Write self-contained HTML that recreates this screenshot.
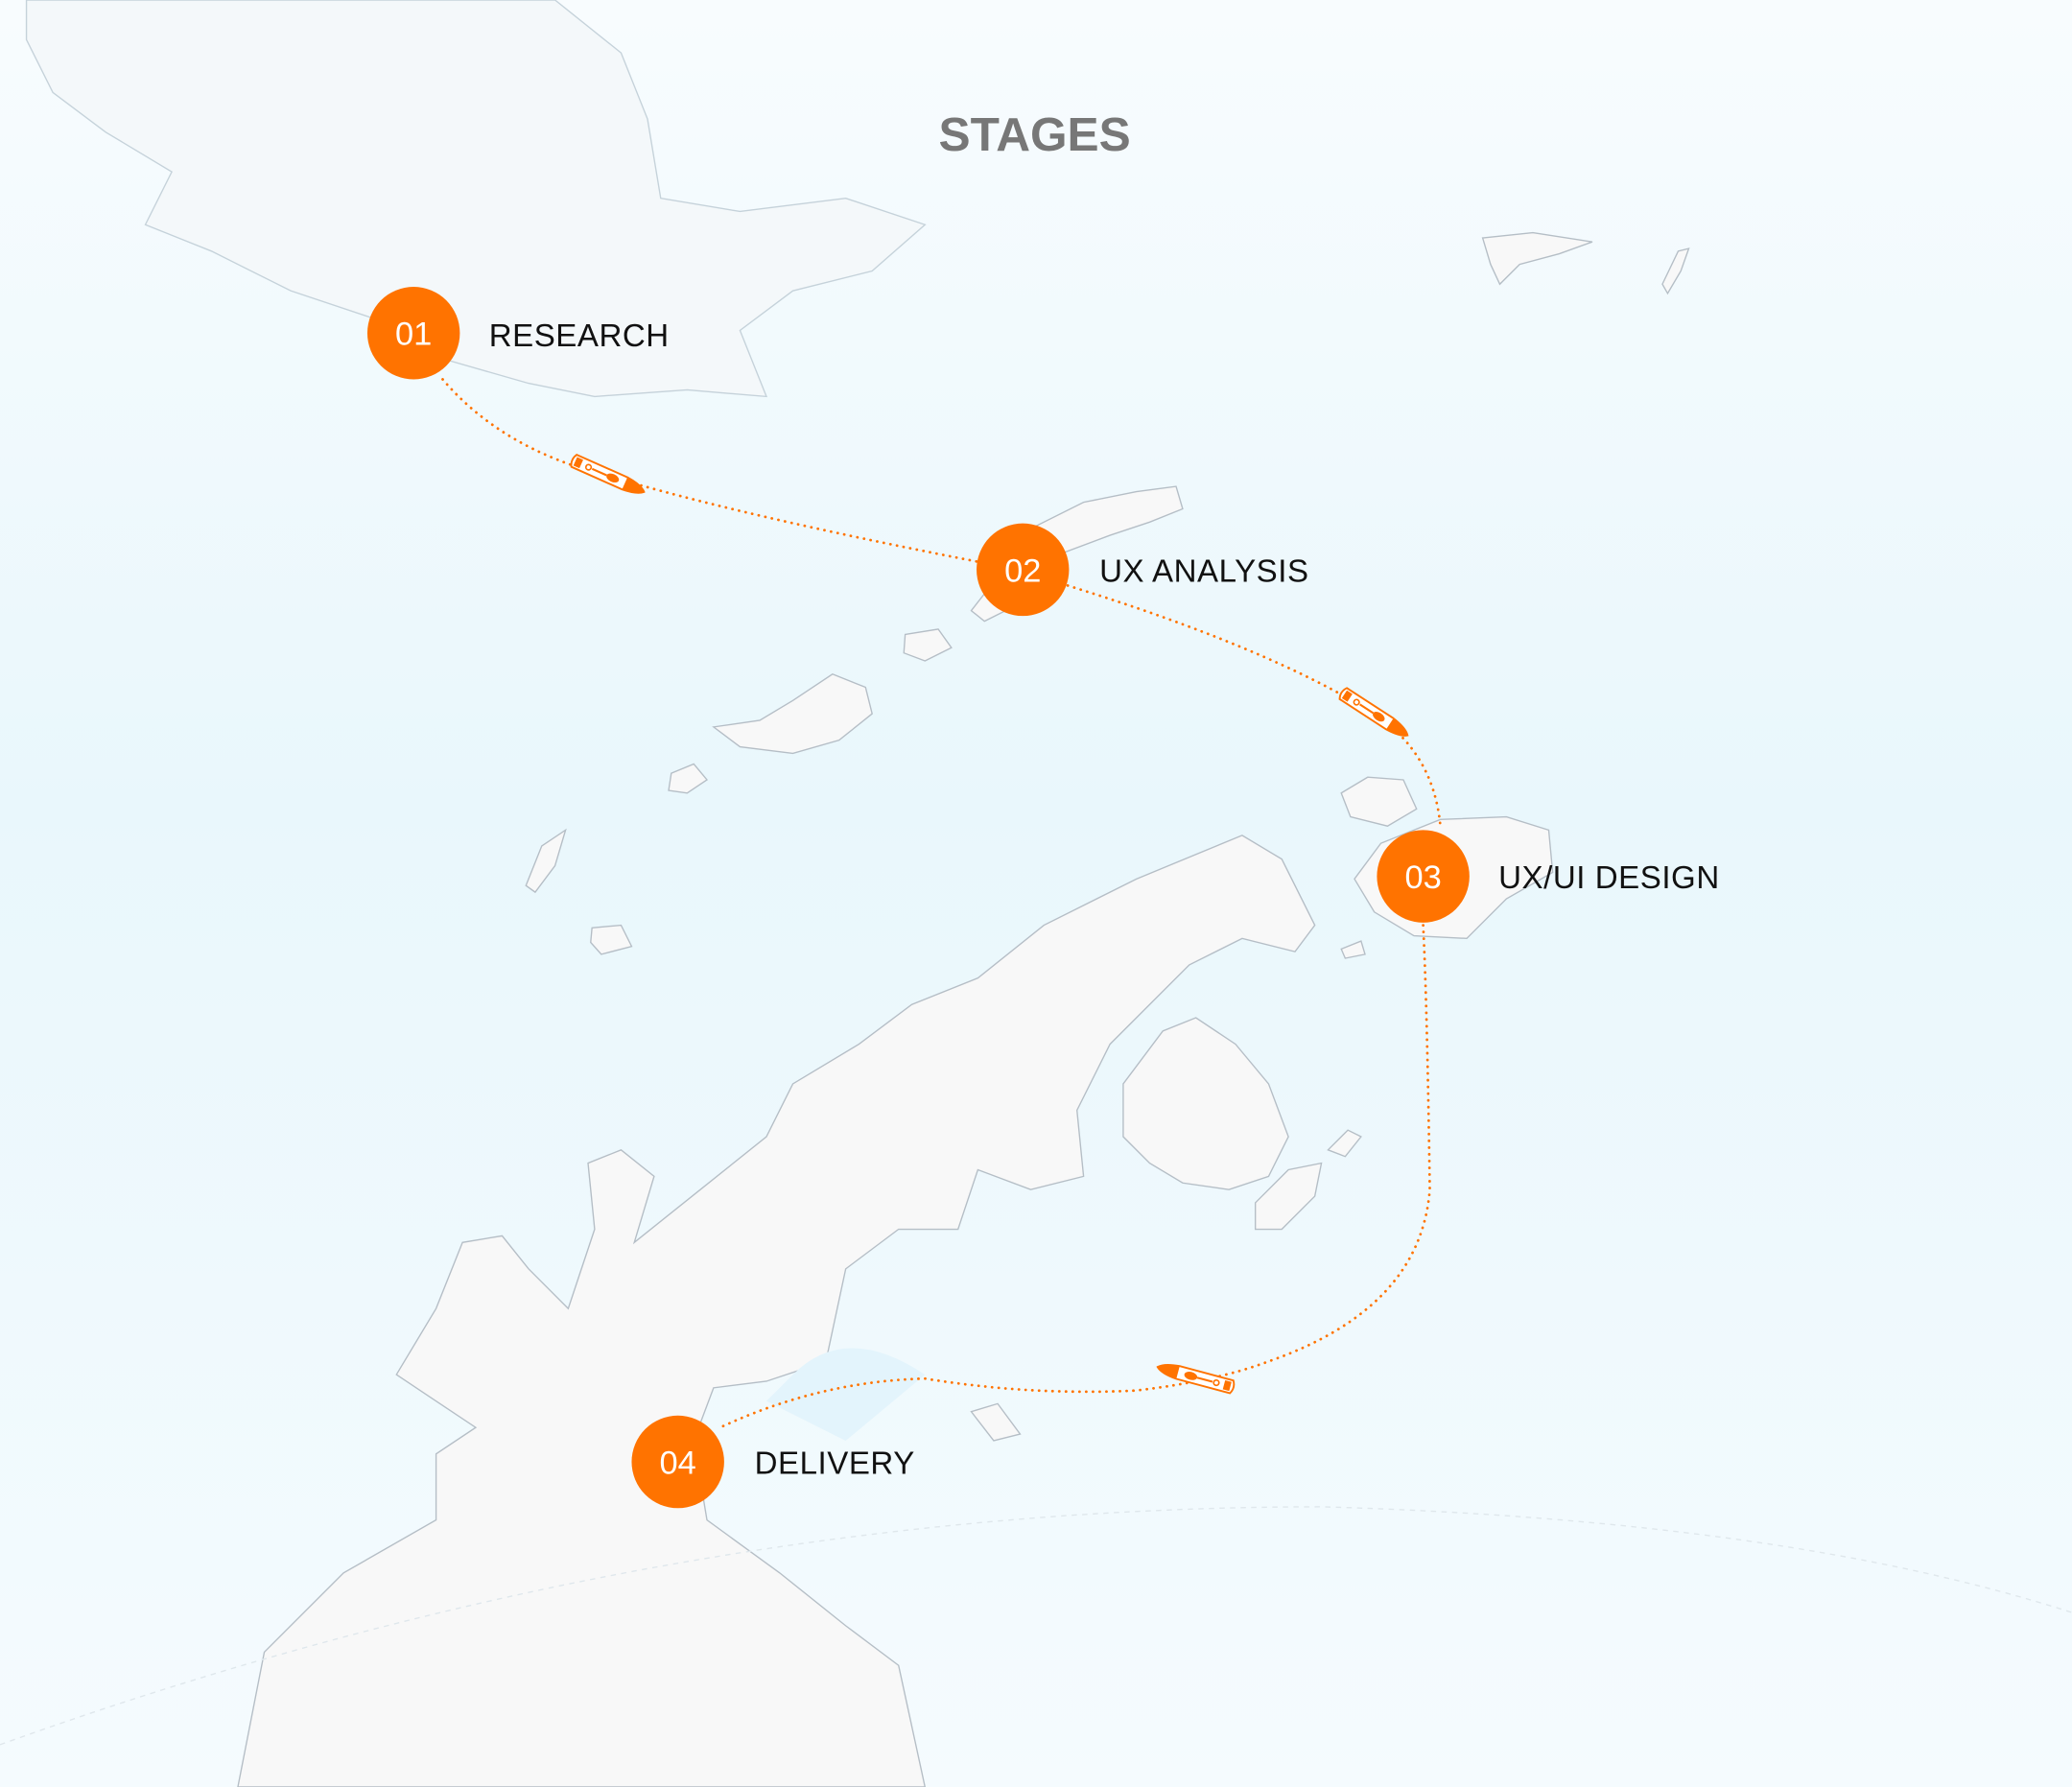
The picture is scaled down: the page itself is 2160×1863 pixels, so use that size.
<!DOCTYPE html>
<html><head><meta charset="utf-8"><style>
html,body{margin:0;padding:0;width:2160px;height:1863px;overflow:hidden}
svg{display:block}
</style></head><body>
<svg width="2160" height="1863" viewBox="0 0 1568 1352" preserveAspectRatio="none" xmlns="http://www.w3.org/2000/svg">
<defs>
<linearGradient id="bg" x1="0" y1="0" x2="0" y2="1">
<stop offset="0" stop-color="#f8fcfe"/>
<stop offset="0.45" stop-color="#e9f7fc"/>
<stop offset="1" stop-color="#f5fbfe"/>
</linearGradient>
<g id="ship">
<path d="M-28,-5 L14,-5 Q26,-4 30,0 Q26,4 14,5 L-28,5 Q-31,0 -28,-5Z" fill="#fff" stroke="#ff7300" stroke-width="1.4"/>
<path d="M-27,-3.5 L-22,-3.5 L-22,3.5 L-27,3.5Z" fill="#ff7300"/>
<circle cx="-16" cy="0" r="2" fill="none" stroke="#ff7300" stroke-width="1.2"/>
<ellipse cx="4" cy="0" rx="5" ry="3" fill="#ff7300"/>
<path d="M14,-5 Q26,-4 30,0 Q26,4 14,5Z" fill="#ff7300"/>
<line x1="-13" y1="0" x2="-1" y2="0" stroke="#ff7300" stroke-width="1.5"/>
</g>
</defs>
<rect width="1568" height="1352" fill="url(#bg)"/>
<g fill="#f8f8f8" stroke="#b5bec6" stroke-width="1">
<path d="M20,0 L420,0 L470,40 L490,90 L500,150 L560,160 L640,150 L700,170 L660,205 L600,220 L560,250 L580,300 L520,295 L450,300 L400,290 L330,270 L280,240 L220,220 L160,190 L110,170 L130,130 L80,100 L40,70 L20,30Z" fill="#f4f8fa" stroke="#c5d2da"/>
<path d="M735,462 L760,430 L780,400 L820,380 L860,372 L890,368 L895,385 L870,395 L840,405 L800,420 L775,455 L745,470Z"/>
<path d="M1015,600 L1035,588 L1062,590 L1072,612 L1050,625 L1022,618Z"/>
<path d="M1025,665 L1045,638 L1090,620 L1140,618 L1172,628 L1175,660 L1140,680 L1110,710 L1070,708 L1040,690Z"/>
<path d="M1122,180 L1160,176 L1205,183 L1180,192 L1150,200 L1135,215 L1128,200Z"/>
<path d="M1258,215 L1270,190 L1278,188 L1272,205 L1262,222Z"/>
<path d="M540,550 L575,545 L600,530 L630,510 L655,520 L660,540 L635,560 L600,570 L560,565Z"/>
<path d="M685,480 L710,476 L720,490 L700,500 L684,494Z"/>
<path d="M508,585 L525,578 L535,590 L520,600 L506,598Z"/>
<path d="M398,670 L410,640 L428,628 L420,655 L405,675Z"/>
<path d="M448,702 L470,700 L478,716 L455,722 L447,713Z"/>
<path d="M300,1040 L330,990 L350,940 L380,935 L400,960 L430,990 L450,930 L445,880 L470,870 L495,890 L480,940 L530,900 L580,860 L600,820 L650,790 L690,760 L740,740 L790,700 L860,665 L940,632 L970,650 L995,700 L980,720 L940,710 L900,730 L870,760 L840,790 L815,840 L820,890 L780,900 L740,885 L725,930 L680,930 L640,960 L625,1030 L580,1045 L540,1050 L525,1090 L535,1150 L590,1190 L640,1230 L680,1260 L700,1352 L180,1352 L200,1250 L260,1190 L330,1150 L330,1100 L360,1080 L330,1060Z"/>
<path d="M850,820 L880,780 L905,770 L935,790 L960,820 L975,860 L960,890 L930,900 L895,895 L870,880 L850,860Z"/>
<path d="M950,910 L975,885 L1000,880 L995,905 L970,930 L950,930Z"/>
<path d="M1005,870 L1020,855 L1030,860 L1018,875Z"/>
<path d="M735,1068 L755,1062 L772,1085 L752,1090Z"/>
<path d="M1015,718 L1030,712 L1033,722 L1018,725Z"/>
</g>
<path d="M600,1040 Q640,1000 700,1040 L640,1090 L580,1060Z" fill="#e3f4fc"/>
<path d="M0,1320 Q500,1140 1000,1140 Q1350,1150 1568,1220" fill="none" stroke="#dfe7ec" stroke-width="1" stroke-dasharray="4 4"/>
<g fill="none" stroke="#ff7300" stroke-width="2" stroke-dasharray="0.1 5" stroke-linecap="round">
<path d="M335,287 Q380,340 460,360 Q560,390 740,425"/>
<path d="M808,443 Q960,490 1040,540 Q1085,570 1090,625"/>
<path d="M1077,700 Q1080,760 1082,900 Q1075,990 960,1030 Q920,1045 860,1052 Q780,1056 700,1043 Q620,1045 545,1080"/>
</g>
<use href="#ship" transform="translate(460,360) rotate(24)"/>
<use href="#ship" transform="translate(1040,540) rotate(33)"/>
<use href="#ship" transform="translate(905,1042) rotate(-165)"/>
<g fill="#ff7300">
<circle cx="313" cy="252" r="35"/>
<circle cx="774" cy="431" r="35"/>
<circle cx="1077" cy="663" r="35"/>
<circle cx="513" cy="1106" r="35"/>
</g>
<g font-family="Liberation Sans, sans-serif" font-size="25" fill="#fff" text-anchor="middle">
<text x="313" y="261">01</text>
<text x="774" y="440">02</text>
<text x="1077" y="672">03</text>
<text x="513" y="1115">04</text>
</g>
<g font-family="Liberation Sans, sans-serif" font-size="24" fill="#111" letter-spacing="0.4">
<text x="370" y="262">RESEARCH</text>
<text x="832" y="440">UX ANALYSIS</text>
<text x="1134" y="672">UX/UI DESIGN</text>
<text x="571" y="1115">DELIVERY</text>
</g>
<text x="783" y="114" font-family="Liberation Sans, sans-serif" font-size="36" font-weight="bold" fill="#777" text-anchor="middle">STAGES</text>
</svg>
</body></html>
